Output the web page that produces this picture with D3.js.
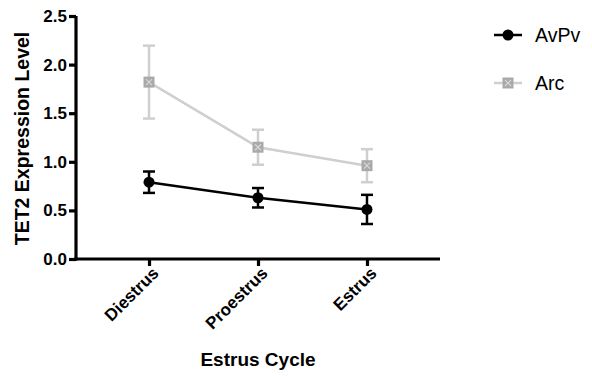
<!DOCTYPE html>
<html>
<head>
<meta charset="utf-8">
<script src="https://cdn.jsdelivr.net/npm/d3@7"></script>
<style>
  body { margin: 0; background: #fff; }
  svg text { font-family: "Liberation Sans", Arial, sans-serif; }
</style>
</head>
<body>
<svg id="chart" width="592" height="377"></svg>
<script>
const categories = ["Diestrus", "Proestrus", "Estrus"];
const avpvMean = [0.79, 0.63, 0.51];
const avpvErr = [0.11, 0.10, 0.15];
const arcMean = [1.82, 1.15, 0.96];
const arcErr = [0.375, 0.18, 0.17];
const yTicks = [0, 0.5, 1.0, 1.5, 2.0, 2.5];

const svg = d3.select("#chart");
const plotLeft = 76, plotRight = 440, plotTop = 16, plotBottom = 259;

const x = d3.scalePoint().domain(categories).range([plotLeft, plotRight]).padding(0.67);
const y = d3.scaleLinear().domain([0, 2.5]).range([plotBottom, plotTop]);

// axes
const yAxis = svg.append("g")
  .attr("transform", `translate(${plotLeft},0)`)
  .call(d3.axisLeft(y).tickValues(yTicks).tickFormat(d3.format(".1f")).tickSize(7).tickSizeOuter(0));
const xAxis = svg.append("g")
  .attr("transform", `translate(0,${plotBottom})`)
  .call(d3.axisBottom(x).tickSize(7).tickSizeOuter(0));

[yAxis, xAxis].forEach(a => {
  a.select(".domain").remove();
  a.selectAll(".tick line").attr("stroke", "#000").attr("stroke-width", 3.2);
  a.selectAll("text").attr("fill", "#000").style("font-size", "17px").style("font-weight", "bold");
});
yAxis.selectAll("text").attr("x", -9);
xAxis.selectAll("text")
  .attr("text-anchor", "end")
  .attr("transform", "translate(6,11) rotate(-45)")
  .attr("x", 0).attr("y", 0).attr("dy", "0.35em");

// axis lines from the scale ranges
svg.append("line")
  .attr("x1", x.range()[0] - 1.6).attr("x2", x.range()[1])
  .attr("y1", y.range()[0]).attr("y2", y.range()[0])
  .attr("stroke", "#000").attr("stroke-width", 3.2);
svg.append("line")
  .attr("x1", x.range()[0]).attr("x2", x.range()[0])
  .attr("y1", y.range()[0] + 1.6).attr("y2", y.range()[1])
  .attr("stroke", "#000").attr("stroke-width", 3.2);

svg.append("text")
  .attr("transform", `translate(22,${(plotTop + plotBottom) / 2 + 1}) rotate(-90)`)
  .attr("dy", "0.35em")
  .attr("text-anchor", "middle")
  .style("font-size", "19.5px").style("font-weight", "bold")
  .text("TET2 Expression Level");

svg.append("text")
  .attr("x", 258).attr("y", 366)
  .attr("text-anchor", "middle")
  .style("font-size", "19px").style("font-weight", "bold")
  .text("Estrus Cycle");

const series = [
  { name: "AvPv", mean: avpvMean, err: avpvErr, line: "#000", errc: "#000" },
  { name: "Arc", mean: arcMean, err: arcErr, line: "#cfcfcf", errc: "#cfcfcf" }
];

const lineGen = d3.line().x((d, i) => x(categories[i])).y(d => y(d));

function drawMarker(g, s, cx, cy) {
  if (s.name === "AvPv") {
    g.append("circle").attr("cx", cx).attr("cy", cy).attr("r", 5.5).attr("fill", "#000");
  } else {
    g.append("rect").attr("x", cx - 5.5).attr("y", cy - 5.5).attr("width", 11).attr("height", 11)
      .attr("fill", "#a9a9a9");
    g.append("path")
      .attr("d", `M${cx - 3},${cy - 3}L${cx + 3},${cy + 3}M${cx + 3},${cy - 3}L${cx - 3},${cy + 3}`)
      .attr("stroke", "#d8d8d8").attr("stroke-width", 1.2);
  }
}

// draw Arc first, then AvPv on top
series.slice().reverse().forEach(s => {
  const g = svg.append("g");
  g.append("path").datum(s.mean).attr("d", lineGen)
    .attr("fill", "none").attr("stroke", s.line).attr("stroke-width", 2.5);
  s.mean.forEach((m, i) => {
    const cx = x(categories[i]);
    const y0 = y(m - s.err[i]), y1 = y(m + s.err[i]);
    g.append("line").attr("x1", cx).attr("x2", cx).attr("y1", y0).attr("y2", y1)
      .attr("stroke", s.errc).attr("stroke-width", 2.5);
    [y0, y1].forEach(yy => g.append("line").attr("x1", cx - 6).attr("x2", cx + 6)
      .attr("y1", yy).attr("y2", yy).attr("stroke", s.errc).attr("stroke-width", 2.5));
    drawMarker(g, s, cx, y(m));
  });
});

// legend
const legend = svg.append("g");
series.forEach((s, i) => {
  const ly = 35 + i * 48;
  legend.append("line").attr("x1", 494).attr("x2", 522).attr("y1", ly).attr("y2", ly)
    .attr("stroke", s.line).attr("stroke-width", 2.5);
  drawMarker(legend, s, 508, ly);
  legend.append("text").attr("x", 535).attr("y", ly).attr("dy", "0.35em")
    .style("font-size", "19.5px").attr("fill", "#000").text(s.name);
});
</script>
</body>
</html>
